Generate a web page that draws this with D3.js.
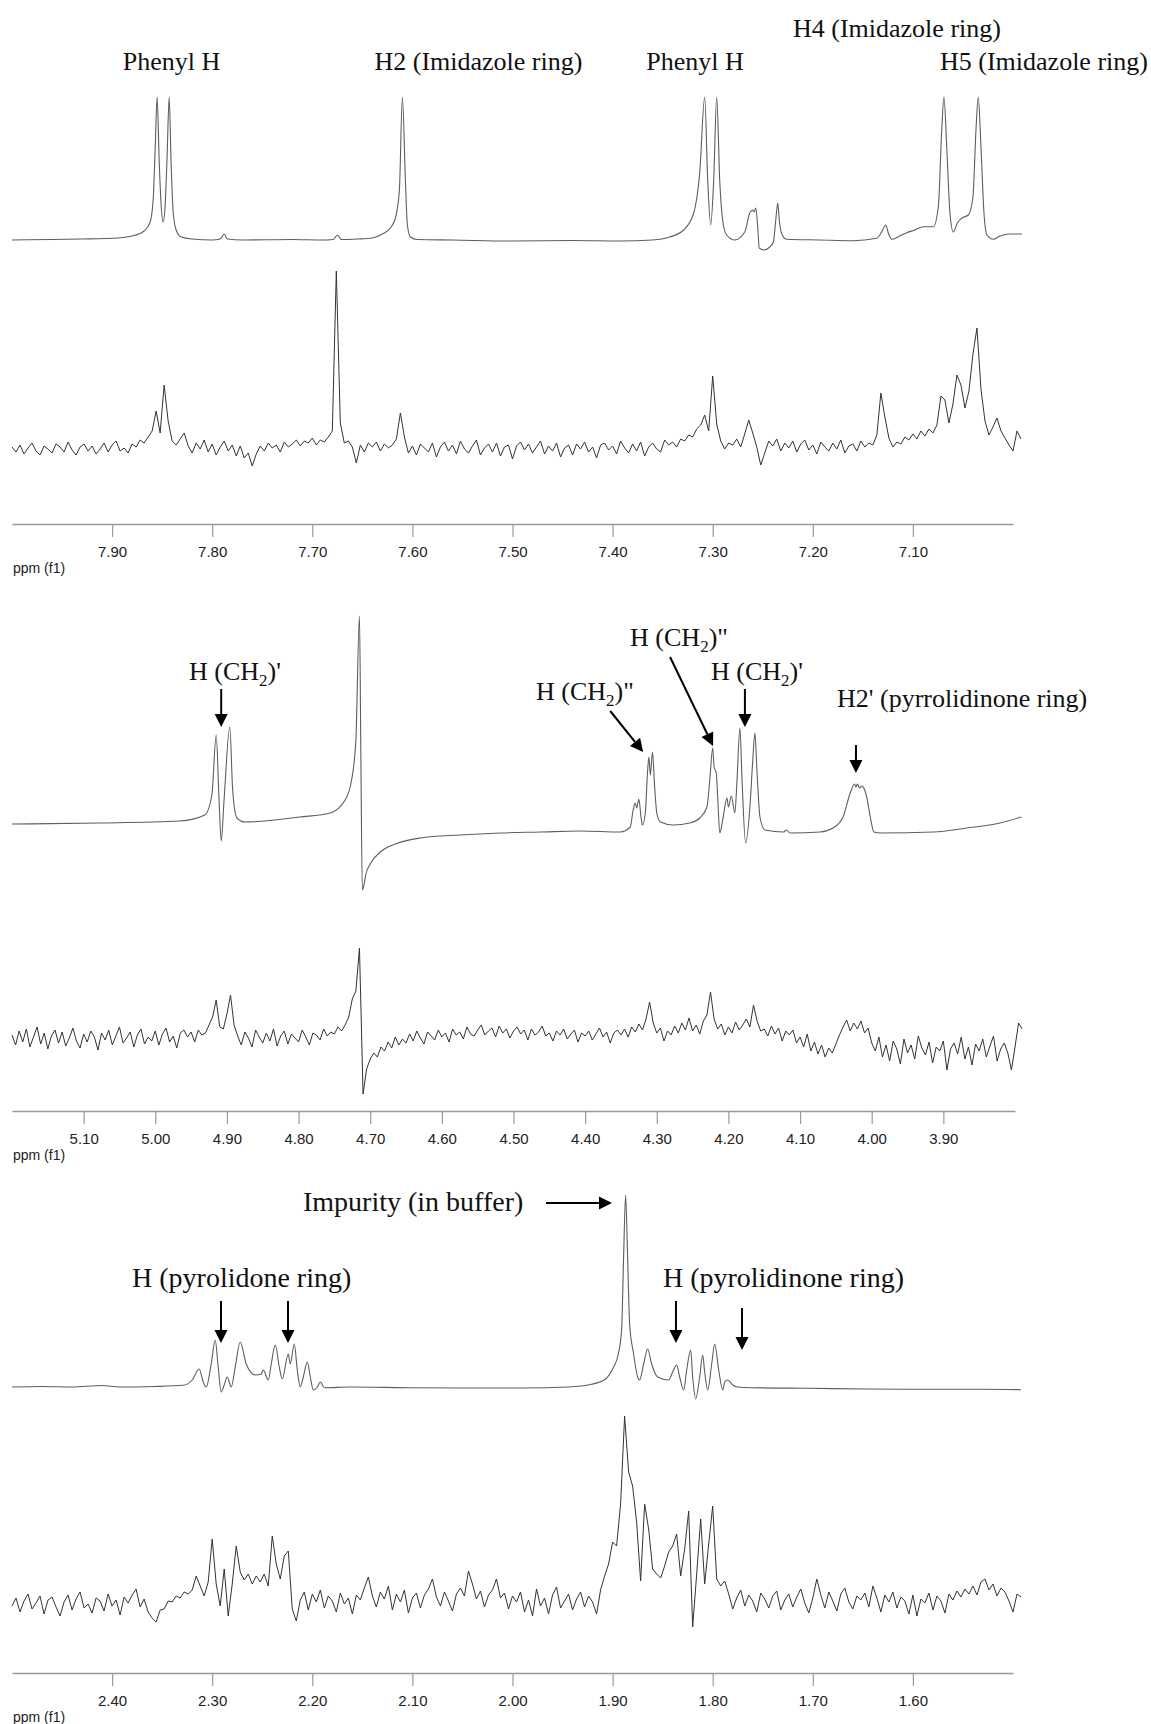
<!DOCTYPE html>
<html>
<head>
<meta charset="utf-8">
<script src="https://cdn.jsdelivr.net/npm/d3@7"></script>
<style>
body { margin: 0; background: #fff; }
svg { display: block; }
.lbl { font-family: "Liberation Serif", "Times New Roman", serif; fill: #111; }
.tick text { font-family: "Liberation Sans", Arial, sans-serif; font-size: 15px; fill: #222; }
.unit { font-family: "Liberation Sans", Arial, sans-serif; font-size: 14px; fill: #222; }
</style>
</head>
<body>
<div id="nmr"></div>
<script>
// ---- data ----
// clean traces: [ppm, intensity] ; noisy traces: values on a regular ppm grid

// top panel, aromatic region
var topTickLabels = [7.90, 7.80, 7.70, 7.60, 7.50, 7.40, 7.30, 7.20, 7.10];
var topClean = [
  [8.000,0],[7.960,0.5],[7.930,1],[7.900,1.7],[7.880,4],[7.868,9],[7.862,18],[7.859,40],[7.857,90],[7.855,143],
  [7.853,80],[7.851,35],[7.849,18],[7.847,35],[7.845,85],[7.843,143],[7.841,75],[7.839,28],[7.836,10],[7.831,3],
  [7.820,1],[7.800,0],[7.792,1],[7.788,6],[7.785,1],[7.770,0],[7.720,0.5],[7.690,0],[7.679,0.5],[7.675,5],
  [7.671,0.5],[7.655,1],[7.640,2],[7.630,6],[7.622,12],[7.617,22],[7.613,50],[7.610,143],[7.607,60],[7.605,15],
  [7.602,3],[7.595,0.5],[7.560,0],[7.500,-1],[7.440,-0.5],[7.393,-1],[7.360,0],[7.343,3],[7.329,10],[7.319,27],
  [7.313,67],[7.308,143],[7.305,60],[7.302,15],[7.299,60],[7.296,143],[7.293,60],[7.289,13],[7.286,5],[7.278,0],
  [7.268,8],[7.263,27],[7.260,30],[7.2584,28],[7.257,32],[7.255,13],[7.2535,-8],[7.249,-10],[7.243,-7],[7.2394,-2],
  [7.237,20],[7.235,37],[7.2335,20],[7.231,6],[7.226,0.7],[7.193,0],[7.160,-0.7],[7.136,1.7],[7.1312,8],[7.127,15],
  [7.1246,7],[7.121,0.7],[7.1145,3.3],[7.106,7.3],[7.098,10],[7.0896,13.3],[7.0796,13.3],[7.0746,33],[7.0712,110],[7.069,143],
  [7.0662,93],[7.063,27],[7.0596,8],[7.0556,17],[7.051,22],[7.0446,25],[7.040,43],[7.037,110],[7.0347,143],[7.032,93],
  [7.029,27],[7.026,5],[7.0197,0.7],[7.013,4],[7.003,6],[6.991,6]
];
var topNoisyStart = 8.000, topNoisyStep = 0.004;
var topNoisy = [
  2,-3,4,-5,1,6,-2,-6,3,0,
  -4,5,2,-3,7,-1,-6,2,5,-2,
  3,-5,0,6,-3,4,8,-2,1,-4,
  5,2,9,6,12,18,38,16,64,28,
  8,4,10,16,3,-4,6,0,9,-3,
  5,-6,2,8,-2,4,-7,3,-9,-4,
  -17,-5,3,-2,6,1,4,-3,7,2,
  5,9,3,8,6,11,4,9,7,12,
  18,178,26,6,8,2,-14,4,-3,6,
  2,7,-2,5,1,4,10,36,12,-4,
  3,-6,5,1,-3,6,-8,2,7,-2,
  4,-5,8,0,-4,3,9,-6,1,5,
  -3,6,-7,2,4,-10,3,7,-1,5,
  -4,2,8,-5,3,-2,6,-8,1,4,
  -6,5,0,7,-3,2,-9,4,6,-1,
  3,-5,8,1,-4,5,-2,7,-7,2,
  6,0,-3,9,4,7,2,10,8,14,
  12,20,24,34,18,73,25,8,0,6,
  4,10,2,15,29,16,2,-16,-4,8,
  3,10,-2,6,1,8,-3,5,9,-1,
  4,-5,7,2,-2,6,0,9,-4,3,
  5,-2,8,2,6,4,14,56,32,11,
  2,7,5,12,9,15,10,18,13,20,
  16,24,53,49,26,45,74,64,41,58,
  95,121,60,28,14,22,31,18,11,4,
  -2,18,10
];

// middle panel, CH2 / water region
var midTickLabels = [5.10, 5.00, 4.90, 4.80, 4.70, 4.60, 4.50, 4.40, 4.30, 4.20, 4.10, 4.00, 3.90];
var midClean = [
  [5.200,6],[5.077,7],[4.966,9],[4.931,15],[4.921,35],[4.915,95],[4.911,30],[4.908,-11],[4.904,30],[4.896,103],
  [4.892,40],[4.886,12],[4.875,8],[4.798,13],[4.756,17],[4.735,30],[4.726,50],[4.720,90],[4.715,214],[4.713,70],
  [4.711,-60],[4.709,-56],[4.706,-44],[4.700,-34],[4.686,-22],[4.665,-14],[4.630,-8],[4.575,-5],[4.519,-3],[4.463,-2],
  [4.407,-1],[4.351,-2],[4.337,3],[4.333,20],[4.330,27],[4.328,22],[4.325,31],[4.322,13],[4.320,5],[4.316,17],
  [4.313,57],[4.311,73],[4.309,55],[4.306,78],[4.303,43],[4.300,17],[4.295,8],[4.277,5],[4.254,7],[4.240,12],
  [4.230,23],[4.226,50],[4.222,82],[4.220,63],[4.217,57],[4.215,33],[4.212,-3],[4.208,10],[4.202,32],[4.200,23],
  [4.196,34],[4.191,17],[4.188,50],[4.184,102],[4.181,50],[4.176,-13],[4.170,23],[4.166,70],[4.163,97],[4.160,57],
  [4.156,13],[4.149,0],[4.123,-2],[4.119,0],[4.114,-3],[4.072,-2],[4.054,2],[4.040,13],[4.030,37],[4.024,46],
  [4.022,43],[4.020,46],[4.017,42],[4.014,44],[4.011,42],[4.007,33],[4.002,13],[3.997,-2],[3.988,-3],[3.914,-2],
  [3.867,2],[3.821,7],[3.791,13]
];
var midNoisyStart = 5.200, midNoisyStep = 0.005;
var midNoisy = [
  4,-6,8,-3,10,-8,2,12,-5,6,
  -10,3,9,-4,7,-7,1,11,-2,-9,
  5,-3,8,2,-11,6,-1,9,-6,3,
  12,-4,1,7,-8,4,10,-5,2,-2,
  8,-6,5,11,-3,3,-9,6,9,2,
  7,-3,9,4,6,14,22,39,12,10,
  25,44,14,3,-6,7,1,-8,9,2,
  -4,6,-2,10,-7,3,8,-5,5,1,
  -3,9,2,-6,6,4,-1,10,3,7,
  5,12,8,14,22,40,48,91,-55,-30,
  -20,-14,-18,-8,-12,-3,-9,2,-6,0,
  -4,5,-2,8,1,-5,7,3,-1,9,
  2,6,-3,10,4,7,0,12,5,3,
  9,14,4,8,11,2,13,6,10,1,
  8,12,5,9,-1,10,4,7,13,3,
  6,-2,8,4,10,0,5,9,-3,6,
  3,8,-1,5,11,2,7,-4,6,9,
  4,10,2,12,7,15,9,20,37,16,
  6,11,-2,8,4,13,6,16,9,21,
  8,14,5,18,24,47,20,10,15,4,
  12,6,17,9,14,20,12,34,18,8,
  10,3,13,5,11,-2,8,4,9,-4,
  2,-8,5,-12,-3,-15,-6,-18,-9,-14,
  -5,4,12,19,8,16,10,18,6,11,
  -4,-12,2,-18,-6,-22,-2,-10,-25,0,
  -14,-6,-20,3,-9,-16,-3,-24,-8,-12,
  -2,-31,-10,-4,-15,2,-20,-8,-26,-5,
  -12,0,-18,-7,3,-22,-10,-4,-14,-31,
  -8,16,10
];

// bottom panel, aliphatic region
var botTickLabels = [2.40, 2.30, 2.20, 2.10, 2.00, 1.90, 1.80, 1.70, 1.60];
var botClean = [
  [2.500,0],[2.470,0.5],[2.440,0],[2.410,1.5],[2.392,0],[2.358,0.5],[2.329,1.7],[2.320,7],[2.313,18],[2.309,5],
  [2.306,0],[2.301,23],[2.297,47],[2.294,20],[2.291,-5],[2.288,2],[2.285,10],[2.281,0],[2.277,20],[2.272,45],
  [2.266,23],[2.257,12],[2.251,13],[2.249,17],[2.244,7],[2.241,23],[2.237,42],[2.233,20],[2.230,8],[2.224,33],
  [2.222,23],[2.218,43],[2.215,17],[2.212,0],[2.209,10],[2.205,25],[2.202,10],[2.199,-3],[2.195,0],[2.192,5],
  [2.188,-0.7],[2.162,0],[2.105,-0.7],[2.048,-1],[1.990,-1],[1.944,0],[1.921,2.7],[1.907,8],[1.899,20],[1.895,30],
  [1.891,57],[1.889,130],[1.887,192],[1.885,130],[1.883,63],[1.879,33],[1.875,10],[1.873,7],[1.869,23],[1.865,38],
  [1.861,23],[1.855,10],[1.844,7],[1.840,15],[1.836,22],[1.833,10],[1.829,-3],[1.826,17],[1.822,37],[1.820,10],
  [1.817,-12],[1.813,10],[1.810,32],[1.808,15],[1.805,-3],[1.801,23],[1.798,43],[1.794,17],[1.790,-3],[1.788,5],
  [1.785,7],[1.780,2],[1.775,0],[1.761,-0.7],[1.703,-1.3],[1.646,-2],[1.588,-2.3],[1.531,-2.3],[1.492,-2.7]
];
var botNoisyStart = 2.500, botNoisyStep = 0.004;
var botNoisy = [
  -2,6,-8,3,10,-5,1,8,-10,4,
  7,-3,-12,2,9,-6,5,12,-4,0,
  -9,6,3,-7,10,-2,4,-11,7,1,
  9,15,-3,5,-8,-14,-18,-6,-5,3,
  2,8,6,12,10,14,28,18,8,22,
  65,20,-2,35,-12,20,58,32,24,30,
  20,28,22,30,18,68,40,25,48,53,
  -5,-17,4,12,-6,10,2,14,-4,8,
  3,-8,11,0,6,-10,9,4,16,27,
  8,-3,12,5,18,-6,10,2,14,-9,
  6,11,-4,9,15,25,7,-2,12,3,
  -7,10,16,8,33,20,5,13,-3,9,
  14,25,6,11,-5,8,2,12,-8,4,
  -12,15,-2,6,-10,9,17,-4,3,10,
  -6,5,12,-3,8,2,-10,14,28,40,
  62,58,100,188,132,118,82,23,100,75,
  35,30,26,38,52,58,70,28,55,93,
  -23,30,85,20,60,98,25,18,23,10,
  -5,6,14,-2,9,3,-8,11,5,-4,
  8,13,-6,4,10,-3,7,15,1,-9,
  6,25,9,-4,12,3,-7,10,16,2,
  -5,8,4,11,-3,18,6,-8,9,2,
  12,-4,7,3,-10,9,-12,5,1,11,
  -6,8,3,-9,10,4,13,7,15,10,
  18,9,22,25,14,20,8,16,12,3,
  -8,10,7
];

// ---- layout ----
var width = 1151, height = 1724;
var panels = [
  { domain: [8.0, 7.0], range: [12, 1013], axisY: 524, cleanY: 240, noisyY: 449,
    clean: topClean, noisy: topNoisy, start: topNoisyStart, step: topNoisyStep, labels: topTickLabels },
  { domain: [5.2, 3.8], range: [12, 1015], axisY: 1111, cleanY: 830, noisyY: 1039,
    clean: midClean, noisy: midNoisy, start: midNoisyStart, step: midNoisyStep, labels: midTickLabels },
  { domain: [2.5, 1.5], range: [12, 1013], axisY: 1673, cleanY: 1387, noisyY: 1604,
    clean: botClean, noisy: botNoisy, start: botNoisyStart, step: botNoisyStep, labels: botTickLabels }
];

// text labels: [panel, segments, ppm, y, anchor, size]; segment flag 1 = subscript
var notes = [
  [0, [["Phenyl H",0]], 7.8407, 70, "middle", 26],
  [0, [["H2 (Imidazole ring)",0]], 7.534, 70, "middle", 26],
  [0, [["Phenyl H",0]], 7.3177, 70, "middle", 26],
  [0, [["H4 (Imidazole ring)",0]], 7.1159, 37, "middle", 26],
  [0, [["H5 (Imidazole ring)",0]], 7.0729, 70, "start", 26],
  [1, [["H (CH",0],["2",1],[")'",0]], 4.953, 680, "start", 26],
  [1, [["H (CH",0],["2",1],[")\"",0]], 4.4686, 700, "start", 26],
  [1, [["H (CH",0],["2",1],[")\"",0]], 4.3373, 646, "start", 26],
  [1, [["H (CH",0],["2",1],[")'",0]], 4.2243, 680, "start", 26],
  [1, [["H2' (pyrrolidinone ring)",0]], 4.0484, 707, "start", 26],
  [2, [["Impurity (in buffer)",0]], 2.2093, 1211, "start", 28],
  [2, [["H (pyrolidone ring)",0]], 2.3801, 1287, "start", 28],
  [2, [["H (pyrolidinone ring)",0]], 1.8497, 1287, "start", 28]
];
// arrows: [panel, ppm from, y from, ppm to, y to]
var arrows = [
  [1, 4.908, 689, 4.908, 727],
  [1, 4.365, 711, 4.319, 752],
  [1, 4.2815, 657, 4.2215, 746],
  [1, 4.177, 689, 4.177, 727],
  [1, 4.022, 745, 4.022, 773],
  [2, 1.9665, 1203, 1.9006, 1203],
  [2, 2.2912, 1301, 2.2912, 1343],
  [2, 2.2243, 1301, 2.2243, 1343],
  [2, 1.8367, 1301, 1.8367, 1343],
  [2, 1.7707, 1308, 1.7707, 1350]
];

var svg = d3.select("#nmr").append("svg")
    .attr("width", width)
    .attr("height", height);

panels.forEach(function(p) {
    p.x = d3.scaleLinear().domain(p.domain).range(p.range);
    var yc = d3.scaleLinear().domain([0, 100]).range([p.cleanY, p.cleanY - 100]);
    var yn = d3.scaleLinear().domain([0, 100]).range([p.noisyY, p.noisyY - 100]);

    // clean spectrum
    var cleanLine = d3.line()
        .x(function(d) { return p.x(d[0]); })
        .y(function(d) { return yc(d[1]); })
        .curve(d3.curveMonotoneX);
    svg.append("path")
        .datum(p.clean)
        .attr("d", cleanLine)
        .attr("fill", "none")
        .attr("stroke", "#5e5e5e")
        .attr("stroke-width", 1.1);

    // noisy spectrum
    var noisyLine = d3.line()
        .x(function(d, i) { return p.x(p.start - i * p.step); })
        .y(function(d) { return yn(d); });
    svg.append("path")
        .datum(p.noisy)
        .attr("d", noisyLine)
        .attr("fill", "none")
        .attr("stroke", "#333")
        .attr("stroke-width", 1);

    // axis: minor ticks every 0.02 ppm, labelled majors every 0.1
    var n = Math.round((p.domain[0] - p.domain[1]) / 0.02);
    var minorVals = d3.range(0, n).map(function(i) { return +(p.domain[0] - i * 0.02).toFixed(2); })
        .filter(function(v) { return p.labels.indexOf(v) < 0; });
    var g = svg.append("g").attr("transform", "translate(0," + p.axisY + ")");
    g.call(d3.axisBottom(p.x).tickValues(minorVals).tickSize(7).tickSizeOuter(0).tickFormat(""));
    g.call(d3.axisBottom(p.x).tickValues(p.labels).tickSize(13).tickSizeOuter(0).tickPadding(9)
        .tickFormat(d3.format(".2f")));
    g.selectAll(".domain").attr("stroke", "#999").attr("stroke-width", 1.5);
    g.selectAll(".tick line").attr("stroke", "#999").attr("stroke-width", 1.2);
    svg.append("text")
        .attr("class", "unit")
        .attr("x", 13)
        .attr("y", p.axisY + 49)
        .text("ppm (f1)");
});

// labels
notes.forEach(function(n) {
    var p = panels[n[0]];
    var t = svg.append("text")
        .attr("class", "lbl")
        .attr("x", p.x(n[2]))
        .attr("y", n[3])
        .attr("text-anchor", n[4])
        .style("font-size", n[5] + "px");
    n[1].forEach(function(s) {
        if (s[1]) {
            t.append("tspan").attr("dy", 6).style("font-size", "17px").text(s[0]);
        } else {
            var ts = t.append("tspan").text(s[0]);
            if (t.selectAll("tspan").size() > 1) ts.attr("dy", -6);
        }
    });
});

// arrows with filled heads
arrows.forEach(function(a) {
    var p = panels[a[0]];
    var x1 = p.x(a[1]), y1 = a[2], x2 = p.x(a[3]), y2 = a[4];
    var L = 13, W = 6.5;
    var dx = x2 - x1, dy = y2 - y1, len = Math.sqrt(dx * dx + dy * dy);
    var ux = dx / len, uy = dy / len;
    var bx = x2 - ux * L, by = y2 - uy * L;
    svg.append("line")
        .attr("x1", x1).attr("y1", y1)
        .attr("x2", bx).attr("y2", by)
        .attr("stroke", "#000")
        .attr("stroke-width", 2);
    svg.append("path")
        .attr("d", "M" + x2 + "," + y2 +
            "L" + (bx - uy * W) + "," + (by + ux * W) +
            "L" + (bx + uy * W) + "," + (by - ux * W) + "Z")
        .attr("fill", "#000");
});
</script>
</body>
</html>
